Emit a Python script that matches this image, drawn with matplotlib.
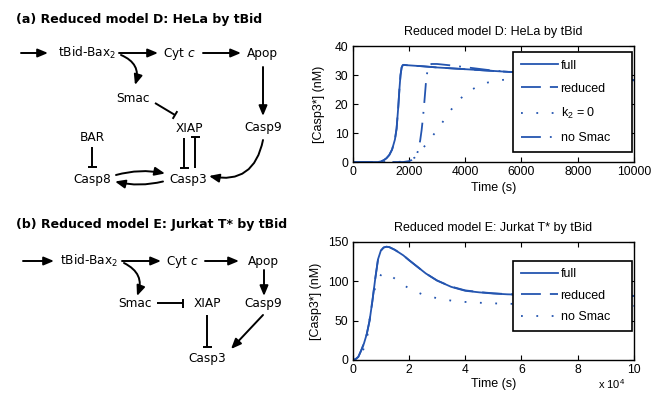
import matplotlib
matplotlib.use("Agg")
import matplotlib.pyplot as plt
import numpy as np

# ---------------- data ----------------
# Panel (a): HeLa, time in s, Casp3* in nM
t_full_a = [0, 900, 1000, 1100, 1200, 1300, 1400, 1500, 1560, 1620, 1660, 1700, 1740, 1780, 1820, 1900,
            2500, 3000, 4000, 5000, 6000, 7000, 8000, 9000, 10000]
v_full_a = [0, 0, 0.2, 0.6, 1.3, 2.4, 4.3, 7.7, 11.5, 19, 25, 30, 32.6, 33.4, 33.5, 33.4,
            33.0, 32.6, 32.0, 31.4, 30.8, 30.1, 29.4, 28.8, 28.2]
t_red_a = [0, 900, 1000, 1100, 1200, 1300, 1400, 1500, 1560, 1620, 1660, 1700, 1740, 1780, 1820, 1900,
           2500, 3000, 4000, 5000, 6000, 7000, 8000, 9000, 10000]
v_red_a = [0, 0, 0.2, 0.6, 1.3, 2.4, 4.3, 7.7, 11.5, 19, 25, 30, 32.6, 33.4, 33.5, 33.4,
           33.0, 32.6, 32.0, 31.4, 30.8, 30.1, 29.4, 28.8, 28.2]
t_k2_a = [0, 1600, 1800, 2000, 2200, 2400, 2600, 2800, 3000, 3200, 3400, 3700, 4000, 4400, 4800, 5200,
          5800, 6500, 7500, 8500, 10000]
v_k2_a = [0, 0, 0.2, 0.6, 1.5, 3.6, 6.0, 8.5, 11.0, 13.8, 16.8, 20.5, 23.5, 25.9, 27.4, 28.2,
          28.7, 28.8, 28.6, 28.4, 28.1]
t_nosmac_a = [0, 1800, 2000, 2100, 2200, 2280, 2340, 2400, 2450, 2500, 2550, 2600, 2650, 2700, 2800,
              3000, 3500, 4000, 5000, 6000, 7000, 8000, 9000, 10000]
v_nosmac_a = [0, 0, 0.3, 0.7, 1.4, 2.6, 4.5, 7.5, 11, 15.5, 21, 27, 31, 33.2, 33.8,
              33.8, 33.3, 32.7, 31.5, 30.8, 30.1, 29.4, 28.8, 28.2]

# Panel (b): Jurkat T*, time in units of 10^4 s
t_full_b = [0, 0.1, 0.2, 0.3, 0.4, 0.5, 0.6, 0.7, 0.8, 0.9, 1.0, 1.1, 1.2, 1.3, 1.5, 1.8, 2.0, 2.3,
            2.6, 3.0, 3.5, 4.0, 4.5, 5.0, 5.5, 6, 7, 8, 9, 10]
v_full_b = [0, 1, 4, 12, 21, 33, 50, 75, 103, 128, 139, 143, 144, 143.5, 140, 133, 127, 118.5,
            110, 101, 93, 88, 86, 84.5, 83.5, 83, 82.5, 82, 81.8, 81.5]
t_red_b = [0, 0.1, 0.2, 0.3, 0.4, 0.5, 0.6, 0.7, 0.8, 0.9, 1.0, 1.1, 1.2, 1.3, 1.5, 1.8, 2.0, 2.3,
           2.6, 3.0, 3.5, 4.0, 4.5, 5.0, 5.5, 6, 7, 8, 9, 10]
v_red_b = [0, 1, 4, 12, 21, 33, 50, 75, 103, 128, 139, 143, 144, 143.5, 140, 133, 127, 118.5,
           110, 101, 93.3, 88.5, 86.3, 84.8, 83.7, 83, 82.5, 82, 81.8, 81.5]
t_nosmac_b = [0, 0.2, 0.3, 0.4, 0.5, 0.55, 0.6, 0.67, 0.73, 0.85, 1.0, 1.1, 1.2, 1.4, 1.7, 2.0, 2.5,
              3.0, 3.5, 4.0, 4.5, 5.0, 5.5, 6.5, 8, 10]
v_nosmac_b = [0, 2, 8, 15, 25, 38, 52, 68, 83, 98, 108, 110.5, 110, 106, 98, 91, 83,
              78.5, 75.5, 73.8, 72.8, 72, 71.5, 70.8, 69.8, 68.8]

xticks_a = [0, 2000, 4000, 6000, 8000, 10000]
yticks_a = [0, 10, 20, 30, 40]
xticks_b = [0, 2, 4, 6, 8, 10]
yticks_b = [0, 50, 100, 150]

# ---------------- style ----------------
BLUE = "#2455b0"
PFONT = "Liberation Sans"
DFONT = "DejaVu Sans"
plt.rcParams["mathtext.fontset"] = "dejavusans"

fig = plt.figure(figsize=(6.59, 3.96), dpi=100)

# ---------------- diagrams (pixel coordinate overlay) ----------------
dg = fig.add_axes([0, 0, 1, 1])
dg.set_xlim(0, 659)
dg.set_ylim(396, 0)
dg.axis("off")

FS = 8.7
LW = 1.4

def txt(x, y, s, ha="left"):
    dg.text(x, y, s, fontsize=FS, family=DFONT, ha=ha, va="baseline")

def arrow(x0, y0, x1, y1, rad=0.0):
    dg.annotate("", xy=(x1, y1), xytext=(x0, y0),
                arrowprops=dict(arrowstyle="-|>,head_length=0.6,head_width=0.25",
                                mutation_scale=10, lw=LW, color="black",
                                shrinkA=0, shrinkB=0,
                                connectionstyle=f"arc3,rad={rad}"))

def tbar(x0, y0, x1, y1, half=4.5):
    dg.plot([x0, x1], [y0, y1], color="black", lw=LW, solid_capstyle="butt")
    dx, dy = x1 - x0, y1 - y0
    n = np.hypot(dx, dy)
    px, py = -dy / n * half, dx / n * half
    dg.plot([x1 - px, x1 + px], [y1 - py, y1 + py], color="black", lw=LW, solid_capstyle="butt")

# panel (a)
dg.text(16, 23, "(a) Reduced model D: HeLa by tBid", fontsize=9, family=DFONT,
        fontweight="bold", ha="left", va="baseline")
arrow(21, 53, 48, 53)
txt(58, 57, r"tBid-Bax$_2$")
arrow(119, 53, 158, 53)
arrow(121, 55, 135, 85, rad=-0.45)
txt(163, 57, r"Cyt $c$")
arrow(203, 53, 241, 53)
txt(247, 57, "Apop")
arrow(263, 67, 263, 116)
txt(263, 131, "Casp9", ha="center")
arrow(263, 140, 209, 176, rad=-0.5)
txt(133, 102, "Smac", ha="center")
tbar(155, 103, 175, 115)
txt(189.5, 132, "XIAP", ha="center")
tbar(184, 138, 184, 168)
tbar(195, 168, 195, 137)
txt(92, 141, "BAR", ha="center")
tbar(92, 147, 92, 167)
txt(92, 183, "Casp8", ha="center")
txt(188, 183, "Casp3", ha="center")
arrow(116, 175, 165, 173.5, rad=-0.12)
arrow(163, 181.5, 115, 181.5, rad=-0.12)

# panel (b)
dg.text(16, 228, "(b) Reduced model E: Jurkat T* by tBid", fontsize=9, family=DFONT,
        fontweight="bold", ha="left", va="baseline")
arrow(23, 261, 54, 261)
txt(60, 265, r"tBid-Bax$_2$")
arrow(122, 261, 161, 261)
arrow(124, 263, 137, 296, rad=-0.45)
txt(166, 265, r"Cyt $c$")
arrow(205, 261, 239, 261)
txt(248, 265, "Apop")
arrow(264, 270, 264, 296)
txt(263.5, 307, "Casp9", ha="center")
txt(135, 307, "Smac", ha="center")
tbar(157, 303, 183, 303)
txt(207.5, 307, "XIAP", ha="center")
tbar(207, 315, 207, 347)
txt(207, 362, "Casp3", ha="center")
arrow(263, 315, 231, 349)

# ---------------- plots ----------------
def style_axes(ax):
    for s in ax.spines.values():
        s.set_linewidth(1.0)
    ax.tick_params(direction="in", top=True, right=True, length=3.5, width=0.8,
                   labelsize=8.7, pad=3)
    for lab in ax.get_xticklabels() + ax.get_yticklabels():
        lab.set_family(PFONT)

dot_ls = (0, (1, 7.5))
dash_ls = (0, (11, 5))
dashdot_ls = (0, (11, 5, 1, 5))

# top
ax1 = fig.add_axes([352.7 / 659, 1 - 162 / 396, 281.3 / 659, 116 / 396])
ax1.plot(t_full_a, v_full_a, color=BLUE, lw=1.3, label="full")
ax1.plot(t_red_a, v_red_a, color=BLUE, lw=1.3, ls=dash_ls, label="reduced")
ax1.plot(t_k2_a, v_k2_a, color=BLUE, lw=1.3, ls=dot_ls, label=r"k$_\mathregular{2}$ = 0")
ax1.plot(t_nosmac_a, v_nosmac_a, color=BLUE, lw=1.3, ls=dashdot_ls, label="no Smac")
ax1.set_xlim(0, 10000)
ax1.set_ylim(0, 40)
ax1.set_xticks(xticks_a)
ax1.set_yticks(yticks_a)
style_axes(ax1)
ax1.set_title("Reduced model D: HeLa by tBid", fontsize=9, family=PFONT, pad=8)
ax1.set_xlabel("Time (s)", fontsize=9, family=PFONT, labelpad=3)
ax1.set_ylabel("[Casp3*] (nM)", fontsize=9, family=PFONT, labelpad=7)
leg1 = ax1.legend(loc="upper left", bbox_to_anchor=(0.57, 0.121, 0.423, 0.827), mode="expand",
                  borderaxespad=0,
                  fancybox=False, edgecolor="black", framealpha=1, handlelength=3.0,
                  handletextpad=0.2, labelspacing=0.9, borderpad=0.6,
                  prop={"family": PFONT, "size": 9})
leg1.get_frame().set_linewidth(1.2)

# bottom
ax2 = fig.add_axes([352.7 / 659, 1 - 360 / 396, 281.3 / 659, 118 / 396])
ax2.plot(t_full_b, v_full_b, color=BLUE, lw=1.3, label="full")
ax2.plot(t_red_b, v_red_b, color=BLUE, lw=1.3, ls=dash_ls, label="reduced")
ax2.plot(t_nosmac_b, v_nosmac_b, color=BLUE, lw=1.3, ls=dot_ls, label="no Smac")
ax2.set_xlim(0, 10)
ax2.set_ylim(0, 150)
ax2.set_xticks(xticks_b)
ax2.set_yticks(yticks_b)
style_axes(ax2)
ax2.set_title("Reduced model E: Jurkat T* by tBid", fontsize=9, family=PFONT, pad=8)
ax2.set_xlabel("Time (s)", fontsize=9, family=PFONT, labelpad=1)
ax2.set_ylabel("[Casp3*] (nM)", fontsize=9, family=PFONT, labelpad=4)
ax2.text(0.968, -0.245, r"x 10$^\mathregular{4}$", transform=ax2.transAxes, ha="right",
         va="baseline", fontsize=8, family=PFONT)
leg2 = ax2.legend(loc="upper left", bbox_to_anchor=(0.57, 0.16, 0.423, 0.679), mode="expand",
                  borderaxespad=0,
                  fancybox=False, edgecolor="black", framealpha=1, handlelength=3.0,
                  handletextpad=0.2, labelspacing=0.75, borderpad=0.6,
                  prop={"family": PFONT, "size": 9})
leg2.get_frame().set_linewidth(1.2)

fig.savefig("out.png", dpi=100)
